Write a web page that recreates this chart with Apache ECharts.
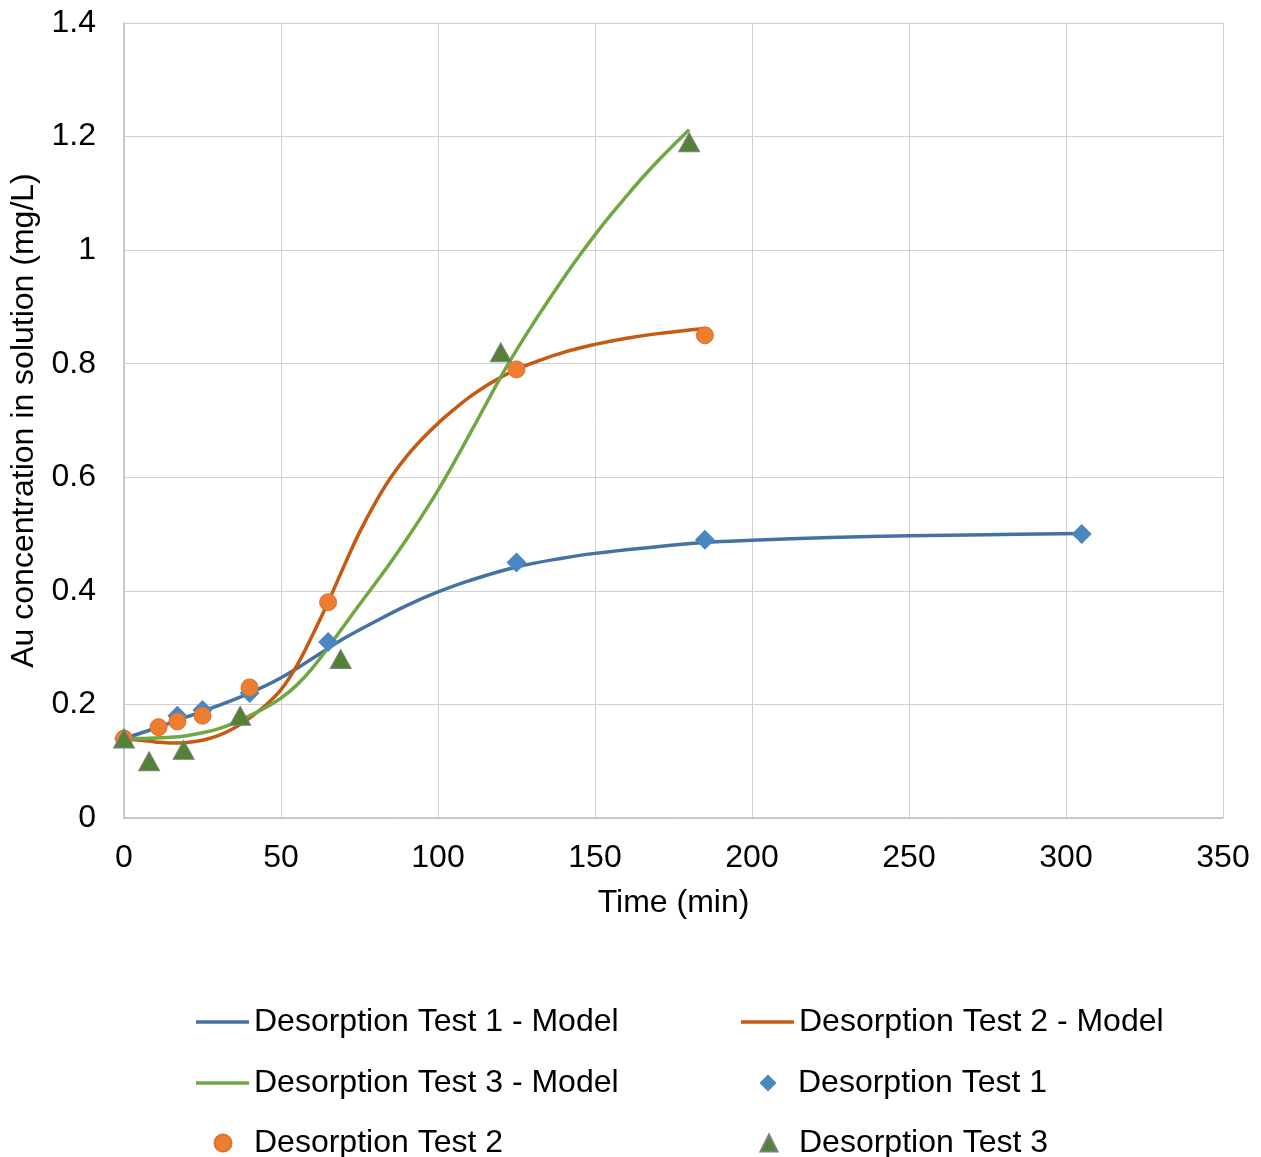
<!DOCTYPE html>
<html>
<head>
<meta charset="utf-8">
<script src="https://cdn.jsdelivr.net/npm/echarts@6/dist/echarts.min.js"></script>
<style>
html,body{margin:0;padding:0;background:#fff;}
#chart{width:1261px;height:1157px;}
</style>
</head>
<body>
<div id="chart"></div>
<script>
// ---- Data ----
const test1Time = [0, 17, 25, 40, 65, 125, 185, 305];
const test1Conc = [0.14, 0.18, 0.19, 0.22, 0.31, 0.45, 0.49, 0.50];

const test2Time = [0, 11, 17, 25, 40, 65, 125, 185];
const test2Conc = [0.14, 0.16, 0.17, 0.18, 0.23, 0.38, 0.79, 0.85];

const test3Time = [0, 8, 19, 37, 69, 120, 180];
const test3Conc = [0.14, 0.10, 0.12, 0.18, 0.28, 0.82, 1.19];

const model1Time = [0, 10, 20, 30, 40, 50, 60, 70, 80, 90, 100, 110, 125, 140, 150, 165, 185, 200, 225, 250, 275, 305];
const model1Conc = [0.14, 0.158, 0.178, 0.198, 0.22, 0.247, 0.281, 0.316, 0.346, 0.374, 0.398, 0.418, 0.442, 0.458, 0.466, 0.475, 0.485, 0.489, 0.494, 0.497, 0.499, 0.501];

const model2Time = [0, 5, 10, 15, 20, 25, 30, 35, 40, 45, 50, 55, 60, 65, 70, 75, 80, 85, 90, 95, 100, 105, 110, 115, 120, 125, 130, 140, 150, 160, 170, 185];
const model2Conc = [0.14, 0.137, 0.134, 0.132, 0.133, 0.137, 0.145, 0.158, 0.176, 0.198, 0.226, 0.268, 0.322, 0.38, 0.443, 0.503, 0.555, 0.60, 0.637, 0.668, 0.695, 0.719, 0.741, 0.76, 0.776, 0.79, 0.801, 0.82, 0.834, 0.845, 0.853, 0.862];

const model3Time = [0, 5, 10, 15, 20, 25, 30, 35, 40, 45, 50, 55, 60, 65, 70, 75, 80, 85, 90, 95, 100, 105, 110, 115, 120, 125, 130, 135, 140, 145, 150, 155, 160, 165, 170, 175, 180];
const model3Conc = [0.14, 0.14, 0.141, 0.142, 0.145, 0.15, 0.157, 0.167, 0.18, 0.194, 0.211, 0.234, 0.264, 0.3, 0.338, 0.376, 0.413, 0.451, 0.491, 0.533, 0.577, 0.625, 0.675, 0.726, 0.777, 0.824, 0.868, 0.91, 0.951, 0.99, 1.027, 1.062, 1.095, 1.127, 1.157, 1.185, 1.212];

const xTicks = [0, 50, 100, 150, 200, 250, 300, 350];
const yTicks = [0, 0.2, 0.4, 0.6, 0.8, 1, 1.2, 1.4];

const names = [
  'Desorption Test 1 - Model',
  'Desorption Test 2 - Model',
  'Desorption Test 3 - Model',
  'Desorption Test 1',
  'Desorption Test 2',
  'Desorption Test 3'
];

function pairs(xs, ys) { return xs.map((x, i) => [x, ys[i]]); }

const FONT = '"Liberation Sans", Arial, sans-serif';
const FS = 32;

const chart = echarts.init(document.getElementById('chart'), null, {renderer: 'canvas'});

const rowTop = [1006, 1067, 1127];
const lineColors = ['#4472A2', '#C55A11', '#6FA843'];

function lineLegend(i, left, top) {
  return {
    data: [{name: names[i], icon: 'rect'}],
    left: left, top: top, orient: 'horizontal',
    itemWidth: 53, itemHeight: 3.5,
    selectedMode: false, padding: 0,
    itemStyle: {color: lineColors[i]},
    textStyle: {fontFamily: FONT, fontSize: FS, color: '#000', padding: [0, 0, 0, 0]}
  };
}
function markLegend(i, icon, center, textX, top) {
  const s = 17;
  const left = center - s / 2;
  return {
    data: [{name: names[i], icon: icon}],
    left: left, top: top, orient: 'horizontal',
    itemWidth: s, itemHeight: s,
    selectedMode: false, padding: 0,
    textStyle: {fontFamily: FONT, fontSize: FS, color: '#000', padding: [0, 0, 0, textX - (left + s + 5)]}
  };
}

const legends = [
  lineLegend(0, 196, rowTop[0]),
  lineLegend(1, 741, rowTop[0]),
  lineLegend(2, 196, rowTop[1]),
  markLegend(3, 'diamond', 768, 798, rowTop[1]),
  markLegend(4, 'circle', 222, 253, rowTop[2]),
  markLegend(5, 'triangle', 768, 798, rowTop[2])
];

const option = {
  backgroundColor: '#fff',
  animation: false,
  legend: legends,
  grid: {left: 124, top: 23, width: 1099, height: 795, containLabel: false},
  xAxis: {
    type: 'value',
    min: xTicks[0],
    max: xTicks[xTicks.length - 1],
    interval: 50,
    name: 'Time (min)',
    nameLocation: 'middle',
    nameGap: 69,
    nameTextStyle: {fontFamily: FONT, fontSize: FS, color: '#000'},
    axisLine: {show: true, lineStyle: {color: '#bfbfbf', width: 1.5}},
    axisTick: {show: false},
    axisLabel: {fontFamily: FONT, fontSize: FS, color: '#000', margin: 24},
    splitLine: {show: true, lineStyle: {color: '#d0d0d0', width: 1}}
  },
  yAxis: {
    type: 'value',
    min: yTicks[0],
    max: yTicks[yTicks.length - 1],
    interval: 0.2,
    name: 'Au concentration in solution (mg/L)',
    nameLocation: 'middle',
    nameGap: 81,
    nameRotate: 90,
    nameTextStyle: {fontFamily: FONT, fontSize: FS, color: '#000'},
    axisLine: {show: true, lineStyle: {color: '#bfbfbf', width: 1.5}},
    axisTick: {show: false},
    axisLabel: {fontFamily: FONT, fontSize: FS, color: '#000', margin: 28},
    splitLine: {show: true, lineStyle: {color: '#d0d0d0', width: 1}}
  },
  series: [
    {
      name: names[0], type: 'line', data: pairs(model1Time, model1Conc),
      smooth: 0.4, symbol: 'none', z: 2,
      lineStyle: {color: lineColors[0], width: 3.5}, itemStyle: {color: lineColors[0]}
    },
    {
      name: names[1], type: 'line', data: pairs(model2Time, model2Conc),
      smooth: 0.4, symbol: 'none', z: 2,
      lineStyle: {color: lineColors[1], width: 3.5}, itemStyle: {color: lineColors[1]}
    },
    {
      name: names[2], type: 'line', data: pairs(model3Time, model3Conc),
      smooth: 0.4, symbol: 'none', z: 2,
      lineStyle: {color: lineColors[2], width: 3.5}, itemStyle: {color: lineColors[2]}
    },
    {
      name: names[3], type: 'scatter', data: pairs(test1Time, test1Conc),
      symbol: 'diamond', symbolSize: 20, z: 3,
      itemStyle: {color: '#4A86C1', opacity: 1}
    },
    {
      name: names[4], type: 'scatter', data: pairs(test2Time, test2Conc),
      symbol: 'circle', symbolSize: 17, z: 3,
      itemStyle: {color: '#ED7D31', borderColor: '#E0702A', borderWidth: 1, opacity: 1}
    },
    {
      name: names[5], type: 'scatter', data: pairs(test3Time, test3Conc),
      symbol: 'triangle', symbolSize: [21, 19], z: 3,
      itemStyle: {color: '#548235', borderColor: '#7F7F7F', borderWidth: 1, opacity: 1}
    }
  ]
};

chart.setOption(option);
</script>
</body>
</html>
